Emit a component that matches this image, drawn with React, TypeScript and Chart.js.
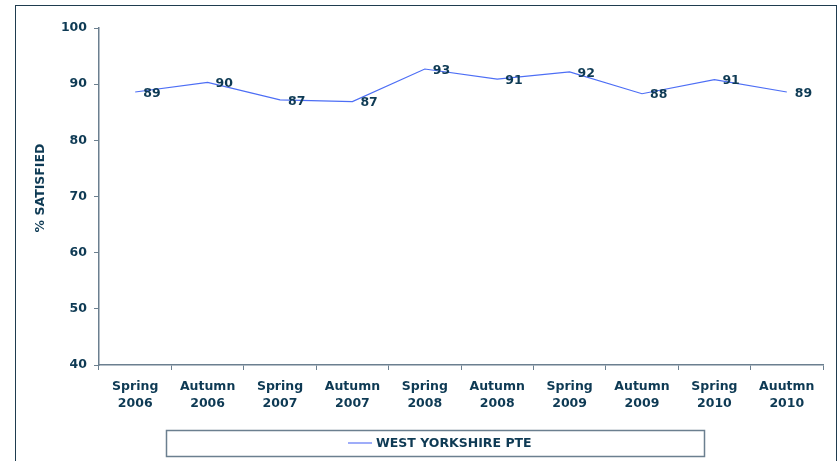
import React, { useEffect, useRef } from "react";
import { Chart, registerables } from "chart.js";

Chart.register(...registerables);

const categories: string[][] = [
  ["Spring", "2006"],
  ["Autumn", "2006"],
  ["Spring", "2007"],
  ["Autumn", "2007"],
  ["Spring", "2008"],
  ["Autumn", "2008"],
  ["Spring", "2009"],
  ["Autumn", "2009"],
  ["Spring", "2010"],
  ["Auutmn", "2010"],
];
const satisfied: number[] = [88.6, 90.3, 87.2, 86.9, 92.7, 90.9, 92.2, 88.3, 90.8, 88.6];
const seriesName = "WEST YORKSHIRE PTE";
const yTitle = "% SATISFIED";

const TEXT = "#0e3a54";
const AXIS = "#6b7f8f";
const LINE = "#4d6ef5";
const FONT = "'DejaVu Sans', Verdana, sans-serif";
const FS = 12.5;

const framePlugin = {
  id: "frame",
  beforeDraw(chart: any) {
    const { ctx, width, height } = chart;
    ctx.save();
    ctx.fillStyle = "#ffffff";
    ctx.fillRect(0, 0, width, height);
    ctx.strokeStyle = "#1f3c4f";
    ctx.lineWidth = 1;
    ctx.strokeRect(15.5, 5.5, 821, height + 20);
    ctx.restore();
  },
  afterDraw(chart: any) {
    const { ctx } = chart;
    const ds = chart.data.datasets[0];
    ctx.save();
    // y title
    ctx.fillStyle = TEXT;
    ctx.font = `bold ${FS}px ${FONT}`;
    ctx.textAlign = "center";
    ctx.textBaseline = "middle";
    ctx.translate(41, 188);
    ctx.rotate(-Math.PI / 2);
    ctx.fillText(yTitle, 0, 0);
    ctx.restore();

    ctx.save();
    ctx.strokeStyle = AXIS;
    ctx.lineWidth = 1.5;
    ctx.strokeRect(166.5, 430.5, 538, 26);
    ctx.strokeStyle = "#7f92f7";
    ctx.lineWidth = 1.5;
    ctx.beginPath();
    ctx.moveTo(348, 443);
    ctx.lineTo(372, 443);
    ctx.stroke();
    ctx.fillStyle = TEXT;
    ctx.font = `bold ${FS}px ${FONT}`;
    ctx.textAlign = "left";
    ctx.textBaseline = "middle";
    ctx.fillText(ds.label, 376, 444);
    ctx.restore();
  },
};

const labelPlugin = {
  id: "pointLabels",
  afterDatasetsDraw(chart: any) {
    const { ctx } = chart;
    const meta = chart.getDatasetMeta(0);
    const data = chart.data.datasets[0].data as number[];
    ctx.save();
    ctx.fillStyle = TEXT;
    ctx.font = `bold ${FS}px ${FONT}`;
    ctx.textAlign = "left";
    ctx.textBaseline = "middle";
    meta.data.forEach((pt: any, i: number) => {
      ctx.fillText(String(Math.round(data[i])), pt.x + 8, pt.y + 1.5);
    });
    ctx.restore();
  },
};

export default function App() {
  const ref = useRef<HTMLCanvasElement | null>(null);
  useEffect(() => {
    const canvas = ref.current;
    if (!canvas) return;
    const chart = new Chart(canvas, {
      type: "line",
      data: {
        labels: categories,
        datasets: [
          {
            label: seriesName,
            data: satisfied,
            borderColor: LINE,
            borderWidth: 1.2,
            pointRadius: 0,
            pointHoverRadius: 0,
            tension: 0,
            fill: false,
          },
        ],
      },
      options: {
        responsive: false,
        animation: false,
        devicePixelRatio: 1,
        layout: { padding: { left: 0, right: 16, top: 28, bottom: 46 } },
        plugins: {
          legend: { display: false },
          tooltip: { enabled: false },
        },
        scales: {
          x: {
            type: "category",
            offset: true,
            grid: {
              offset: true,
              drawOnChartArea: false,
              drawTicks: true,
              tickLength: 5,
              color: AXIS,
            },
            border: { display: true, color: AXIS, width: 1.5 },
            ticks: {
              color: TEXT,
              font: { family: FONT, size: FS, weight: "bold", lineHeight: 1.3 },
              maxRotation: 0,
              autoSkip: false,
              padding: 9,
            },
            afterFit(scale: any) {
              scale.height = 50;
            },
          },
          y: {
            min: 40,
            max: 100,
            ticks: {
              stepSize: 10,
              color: TEXT,
              font: { family: FONT, size: FS, weight: "bold" },
              padding: 7,
            },
            grid: {
              drawOnChartArea: false,
              drawTicks: true,
              tickLength: 5,
              color: AXIS,
            },
            border: { display: true, color: AXIS, width: 1.5 },
            afterFit(scale: any) {
              scale.width = 99;
            },
          },
        },
      },
      plugins: [framePlugin, labelPlugin],
    });
    return () => chart.destroy();
  }, []);
  return (
    <div style={{ position: "fixed", left: 0, top: 0, width: 839, height: 461, background: "#fff" }}>
      <canvas ref={ref} width={839} height={461} style={{ display: "block" }} />
    </div>
  );
}
